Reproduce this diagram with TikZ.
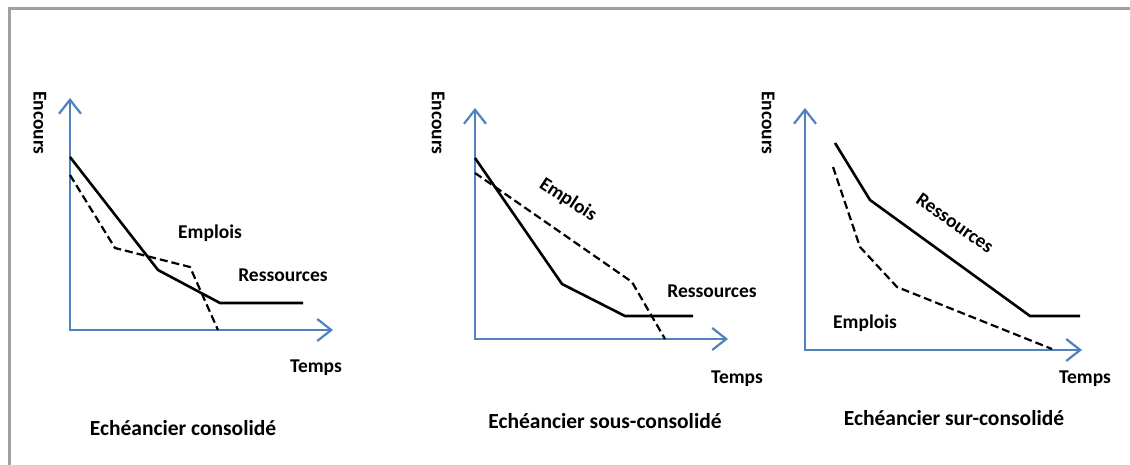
\documentclass[tikz,border=0pt]{standalone}
\usepackage{fontspec}
\setmainfont{Carlito}
\usetikzlibrary{arrows.meta}
\definecolor{axeblue}{RGB}{79,129,189}
\definecolor{cadregray}{RGB}{160,160,160}

\begin{document}
\begin{tikzpicture}[x=1pt,y=-1pt,
  axe/.style={axeblue,line width=2.2pt,line join=miter,
    {Straight Barb[length=14pt,width=22pt]}-{Straight Barb[length=14pt,width=22pt]}},
  ress/.style={black,line width=2.6pt},
  empl/.style={black,line width=2.2pt,dash pattern=on 8pt off 4pt},
  lbl/.style={font=\bfseries\fontsize{19.5}{21}\selectfont,inner sep=0pt},
  titre/.style={font=\bfseries\fontsize{21.5}{23}\selectfont,inner sep=0pt}]
  \useasboundingbox (0,0) rectangle (1130,465);
  \fill[white] (0,0) rectangle (1130,465);
  \draw[cadregray,line width=3pt] (9,465) -- (9,9) -- (1130,9);

  % consolide
  \coordinate (Y1) at (70,98);
  \coordinate (O1) at (70,330);
  \coordinate (X1) at (333,330);
  \draw[axe] (Y1) -- (O1) -- (X1);
  \draw[ress] (70,157) -- (158,270) -- (220,303) -- (303,303);
  \draw[empl] (70,175) -- (115,248) -- (190,267) -- (218,330);
  \node[lbl,rotate=-90] (enc1) at (40,123) {Encours};
  \node[lbl] (emp1) at (210,233) {Emplois};
  \node[lbl] (res1) at (283,275) {Ressources};
  \node[lbl] (tps1) at (316,368) {Temps};
  \node[titre] (tit1) at (183,428) {Echéancier consolidé};

  % sous-consolide
  \coordinate (Y2) at (475,108);
  \coordinate (O2) at (475,339);
  \coordinate (X2) at (728,339);
  \draw[axe] (Y2) -- (O2) -- (X2);
  \draw[ress] (475,158) -- (562,284) -- (625,316) -- (693,316);
  \draw[empl] (475,173) -- (632,282) -- (665,339);
  \node[lbl,rotate=-33] (emp2) at (568,200) {Emplois};
  \node[lbl,rotate=-90] (enc2) at (438,123) {Encours};
  \node[lbl] (res2) at (712,291) {Ressources};
  \node[lbl] (tps2) at (737,379) {Temps};
  \node[titre] (tit2) at (605,421) {Echéancier sous-consolidé};

  % sur-consolide
  \coordinate (Y3) at (805,108);
  \coordinate (O3) at (805,350);
  \coordinate (X3) at (1082,350);
  \draw[axe] (Y3) -- (O3) -- (X3);
  \draw[ress] (835,143) -- (870,200) -- (1030,316) -- (1080,316);
  \draw[empl] (833,167) -- (860,247) -- (897,287) -- (1052,349);
  \node[lbl,rotate=-90] (enc3) at (768,123) {Encours};
  \node[lbl,rotate=-35] (res3) at (955,223) {Ressources};
  \node[lbl] (emp3) at (865,323) {Emplois};
  \node[lbl] (tps3) at (1085,379) {Temps};
  \node[titre] (tit3) at (954,418) {Echéancier sur-consolidé};
\end{tikzpicture}
\end{document}
